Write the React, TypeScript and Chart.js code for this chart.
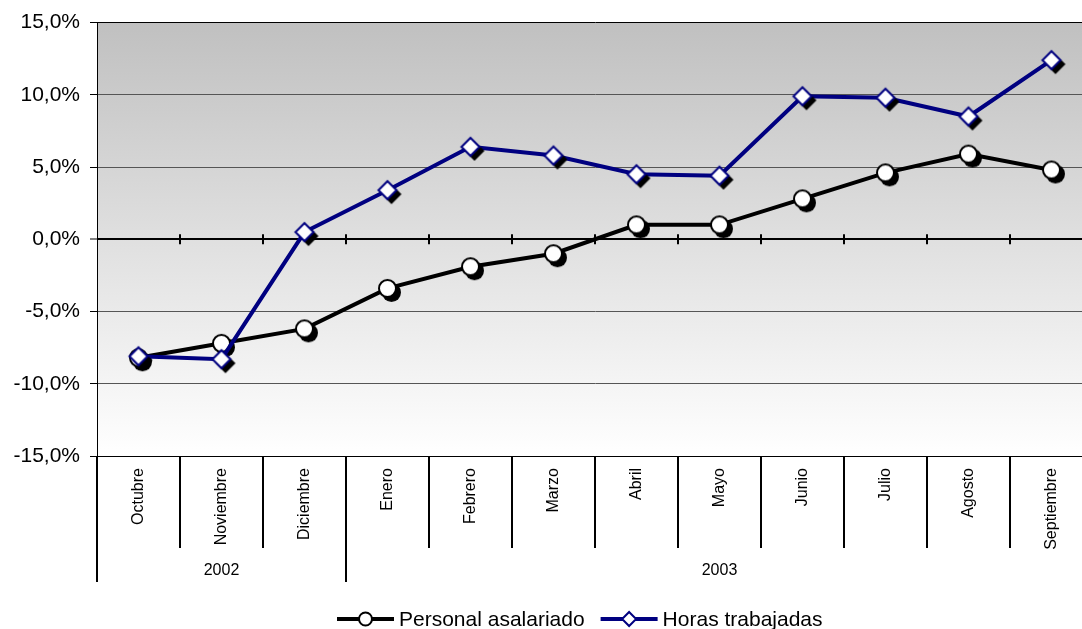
import React, { useEffect, useRef } from 'react';
import { Chart, registerables } from 'chart.js';

Chart.register(...registerables);

const months = ['Octubre', 'Noviembre', 'Diciembre', 'Enero', 'Febrero', 'Marzo', 'Abril', 'Mayo', 'Junio', 'Julio', 'Agosto', 'Septiembre'];
const years = ['2002', '2003'];
const yearSpans = [3, 9];
const personal = [-8.2, -7.2, -6.2, -3.4, -1.9, -1.0, 1.0, 1.0, 2.8, 4.6, 5.9, 4.8];
const horas = [-8.1, -8.3, 0.5, 3.4, 6.4, 5.8, 4.5, 4.4, 9.9, 9.8, 8.5, 12.4];
const seriesNames = ['Personal asalariado', 'Horas trabajadas'];
const yMin = -15;
const yMax = 15;
const yStep = 5;

const FONT = '"Liberation Sans", Arial, sans-serif';
const NAVY = '#000080';

function shapePath(ctx: CanvasRenderingContext2D, kind: string, x: number, y: number, r: number) {
  ctx.beginPath();
  if (kind === 'circle') {
    ctx.arc(x, y, r, 0, Math.PI * 2);
  } else {
    ctx.moveTo(x, y - r);
    ctx.lineTo(x + r, y);
    ctx.lineTo(x, y + r);
    ctx.lineTo(x - r, y);
    ctx.closePath();
  }
}

function makeMarker(kind: string, stroke: string, r: number, off: number) {
  const size = Math.ceil(2 * (r + 2 + off));
  const c = document.createElement('canvas');
  c.width = size;
  c.height = size;
  const ctx = c.getContext('2d')!;
  const m = size / 2;
  ctx.fillStyle = '#000';
  shapePath(ctx, kind, m + off, m + off, r + 1);
  ctx.fill();
  ctx.fillStyle = '#fff';
  ctx.strokeStyle = stroke;
  ctx.lineWidth = 2;
  ctx.lineJoin = 'miter';
  shapePath(ctx, kind, m, m, r);
  ctx.fill();
  ctx.stroke();
  return c;
}

export default function App() {
  const ref = useRef<HTMLCanvasElement | null>(null);

  useEffect(() => {
    if (!ref.current) return;
    const circleImg = makeMarker('circle', '#000', 8.5, 4);
    const diamondImg = makeMarker('diamond', NAVY, 9, 4);

    const decor = {
      id: 'decor',
      beforeDraw(chart: any) {
        const { ctx, chartArea: a } = chart;
        const g = ctx.createLinearGradient(0, a.top, 0, a.bottom);
        g.addColorStop(0, '#c0c0c0');
        g.addColorStop(1, '#ffffff');
        ctx.save();
        ctx.fillStyle = g;
        ctx.fillRect(a.left, a.top, a.right - a.left, a.bottom - a.top);
        ctx.restore();
      },
      beforeDatasetsDraw(chart: any) {
        const { ctx } = chart;
        const xs = chart.scales.x;
        const ys = chart.scales.y;
        const half = (xs.getPixelForValue(1) - xs.getPixelForValue(0)) / 2;
        const y0 = ys.getPixelForValue(0);
        ctx.save();
        ctx.strokeStyle = '#000';
        ctx.lineWidth = 2;
        for (let i = 1; i < months.length; i++) {
          const x = Math.round(xs.getPixelForValue(i) - half);
          ctx.beginPath();
          ctx.moveTo(x, y0 - 5);
          ctx.lineTo(x, y0 + 5);
          ctx.stroke();
        }
        ctx.restore();
      },
      afterDraw(chart: any) {
        const { ctx, chartArea: a } = chart;
        const xs = chart.scales.x;
        const half = (xs.getPixelForValue(1) - xs.getPixelForValue(0)) / 2;
        ctx.save();
        ctx.strokeStyle = '#000';
        ctx.lineWidth = 2;
        const groupB = new Set<number>();
        let acc = 0;
        groupB.add(0);
        yearSpans.forEach((s) => { acc += s; groupB.add(acc); });
        for (let i = 0; i <= months.length; i++) {
          const x = Math.round(xs.getPixelForValue(i) - half);
          const bottom = groupB.has(i) ? 582 : 548;
          ctx.beginPath();
          ctx.moveTo(x, a.bottom);
          ctx.lineTo(x, bottom);
          ctx.stroke();
        }
        ctx.fillStyle = '#000';
        ctx.font = `16px ${FONT}`;
        ctx.textAlign = 'right';
        ctx.textBaseline = 'middle';
        months.forEach((m, i) => {
          const x = xs.getPixelForValue(i);
          ctx.save();
          ctx.translate(x, a.bottom + 12);
          ctx.rotate(-Math.PI / 2);
          ctx.fillText(m, 0, 0);
          ctx.restore();
        });
        ctx.textAlign = 'center';
        let start = 0;
        years.forEach((yv, k) => {
          const end = start + yearSpans[k] - 1;
          const cx = (xs.getPixelForValue(start) + xs.getPixelForValue(end)) / 2;
          ctx.fillText(yv, cx, 571);
          start += yearSpans[k];
        });
        const ly = 619;
        ctx.font = `21px ${FONT}`;
        ctx.textAlign = 'left';
        const items = [
          { name: seriesNames[0], color: '#000', kind: 'circle' },
          { name: seriesNames[1], color: NAVY, kind: 'diamond' },
        ];
        let lx = 337;
        items.forEach((it) => {
          ctx.strokeStyle = it.color;
          ctx.lineWidth = 4;
          ctx.beginPath();
          ctx.moveTo(lx, ly);
          ctx.lineTo(lx + 57, ly);
          ctx.stroke();
          const mx = lx + 28.5;
          ctx.fillStyle = '#fff';
          ctx.lineWidth = 2;
          shapePath(ctx, it.kind, mx, ly, it.kind === 'circle' ? 6.5 : 7);
          ctx.fill();
          ctx.stroke();
          ctx.fillStyle = '#000';
          ctx.fillText(it.name, lx + 62, ly + 1);
          lx += 62 + ctx.measureText(it.name).width + 16;
        });
        ctx.restore();
      },
    };

    const chart = new Chart(ref.current, {
      type: 'line',
      data: {
        labels: months,
        datasets: [
          {
            label: seriesNames[0],
            data: personal,
            borderColor: '#000',
            borderWidth: 4,
            pointStyle: circleImg as any,
            pointRadius: 9,
            order: 1,
            clip: false,
          },
          {
            label: seriesNames[1],
            data: horas,
            borderColor: NAVY,
            borderWidth: 4,
            pointStyle: diamondImg as any,
            pointRadius: 9,
            order: 0,
            clip: false,
          },
        ],
      },
      options: {
        responsive: false,
        animation: false,
        devicePixelRatio: 1,
        events: [],
        layout: { autoPadding: false, padding: { left: 0, right: 1, top: 22, bottom: 173 } },
        plugins: {
          legend: { display: false },
          tooltip: { enabled: false },
        },
        scales: {
          x: {
            type: 'category',
            display: false,
            offset: true,
          },
          y: {
            min: yMin,
            max: yMax,
            afterFit(scale: any) { scale.width = 97; },
            ticks: {
              stepSize: yStep,
              color: '#000',
              padding: 10,
              font: { size: 21, family: FONT },
              callback: (v: any) => Number(v).toFixed(1).replace('.', ',') + '%',
            },
            grid: {
              color: (c: any) => {
                const v = c.tick ? c.tick.value : null;
                return v === 0 || v === yMin || v === yMax ? '#000' : '#555';
              },
              lineWidth: (c: any) => (c.tick && c.tick.value === 0 ? 2 : 1),
              tickColor: '#000',
              tickWidth: 1,
              tickLength: 7,
            },
            border: { display: true, color: '#000', width: 1 },
          },
        },
      },
      plugins: [decor],
    });
    return () => chart.destroy();
  }, []);

  return (
    <div style={{ position: 'absolute', left: 0, top: 0, width: 1082, height: 629, overflow: 'hidden', background: '#fff' }}>
      <div style={{ position: 'absolute', left: 0, top: 0, width: 1094, height: 629 }}>
        <canvas ref={ref} width={1094} height={629} style={{ display: 'block', width: 1094, height: 629 }} />
      </div>
    </div>
  );
}
